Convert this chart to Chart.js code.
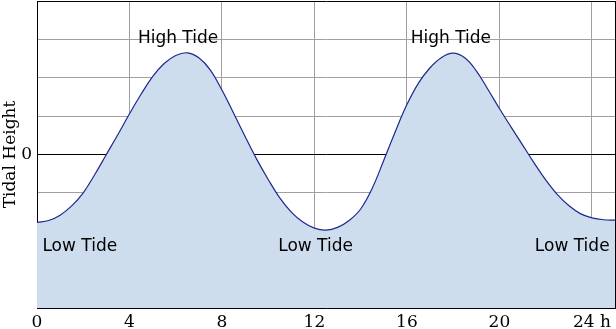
<!DOCTYPE html>
<html>
<head>
<meta charset="utf-8">
<script src="https://cdn.jsdelivr.net/npm/chart.js@4/dist/chart.umd.min.js"></script>
<style>
html,body{margin:0;padding:0;background:#fff;}
canvas{display:block;}
</style>
</head>
<body>
<canvas id="c" width="616" height="329"></canvas>
<script>
// Data (every half hour)
const hours   = [0, 0.5, 1, 1.5, 2, 2.5, 3, 3.5, 4, 4.5, 5, 5.5, 6, 6.5, 7, 7.5, 8, 8.5, 9, 9.5, 10, 10.5, 11, 11.5, 12, 12.5,
                 13, 13.5, 14, 14.5, 15, 15.5, 16, 16.5, 17, 17.5, 18, 18.5, 19, 19.5, 20, 20.5, 21, 21.5, 22, 22.5, 23, 23.5, 24, 24.5, 25];
const heights = [-1.77, -1.72, -1.58, -1.34, -1.0, -0.52, 0.0, 0.52, 1.06, 1.57, 2.03, 2.37, 2.58, 2.65, 2.52, 2.2, 1.68, 1.08, 0.47, -0.12, -0.65, -1.13, -1.5, -1.76, -1.92, -1.97,
                 -1.9, -1.72, -1.42, -0.88, -0.15, 0.6, 1.3, 1.86, 2.26, 2.53, 2.64, 2.52, 2.18, 1.7, 1.2, 0.72, 0.25, -0.22, -0.66, -1.04, -1.33, -1.54, -1.65, -1.7, -1.71];
const xTicks = [0, 4, 8, 12, 16, 20, 24, 25];
const xTickLabels = ['0', '4', '8', '12', '16', '20', '24 h', ''];
const yTicks = [-4, -3, -2, -1, 0, 1, 2, 3, 4];
const noteTexts = ['High Tide', 'High Tide', 'Low Tide', 'Low Tide', 'Low Tide'];
const noteX = [6.1, 17.9, 1.85, 12.05, 23.15];
const noteY = [3.02, 3.02, -2.4, -2.4, -2.4];

const points = hours.map((h, i) => ({x: h, y: heights[i]}));

const notesPlugin = {
  id: 'notes',
  afterDraw(chart) {
    const {ctx, scales: {x, y}} = chart;
    ctx.save();
    ctx.font = '17px "DejaVu Sans"';
    ctx.fillStyle = '#000';
    ctx.textAlign = 'center';
    ctx.textBaseline = 'middle';
    noteTexts.forEach((t, i) => {
      ctx.fillText(t, x.getPixelForValue(noteX[i]), y.getPixelForValue(noteY[i]));
    });
    ctx.restore();
  }
};

new Chart(document.getElementById('c'), {
  type: 'line',
  data: {
    datasets: [{
      data: points,
      borderColor: 'rgb(30,40,140)',
      borderWidth: 1.2,
      backgroundColor: 'rgb(205,221,238)',
      fill: 'start',
      pointRadius: 0,
      tension: 0.4
    }]
  },
  options: {
    responsive: false,
    animation: false,
    layout: {padding: {top: 1, right: 1, left: 0, bottom: 0}},
    plugins: {legend: {display: false}, tooltip: {enabled: false}},
    scales: {
      x: {
        type: 'linear',
        min: 0, max: 25,
        z: 1,
        afterBuildTicks(s) { s.ticks = xTicks.map(v => ({value: v})); },
        afterFit(s) { s.height = 21; s.paddingLeft = 0; s.paddingRight = 0; },
        ticks: {
          autoSkip: false, maxRotation: 0, padding: 4,
          color: '#000',
          font: {family: '"DejaVu Serif"', size: 17},
          callback: (v) => xTickLabels[xTicks.indexOf(v)]
        },
        grid: {
          drawTicks: false,
          color: (c) => (c.tick && c.tick.value === 25) ? '#000' : '#a0a0a0',
          lineWidth: 1
        },
        border: {color: '#000', width: 1}
      },
      y: {
        type: 'linear',
        min: -4, max: 4,
        z: 1,
        afterBuildTicks(s) { s.ticks = yTicks.map(v => ({value: v})); },
        afterFit(s) { s.width = 37; s.paddingTop = 0; s.paddingBottom = 0; },
        ticks: {
          padding: 5,
          color: '#000',
          font: {family: '"DejaVu Serif"', size: 17},
          callback: (v) => v === 0 ? '0' : ''
        },
        grid: {
          drawTicks: false,
          color: (c) => (c.tick && (c.tick.value === 0 || c.tick.value === 4)) ? '#000' : '#a0a0a0',
          lineWidth: 1
        },
        border: {color: '#000', width: 1},
        title: {
          display: true,
          text: 'Tidal Height',
          color: '#000',
          font: {family: '"DejaVu Serif"', size: 17},
          padding: {top: 0, bottom: 0}
        }
      }
    }
  },
  plugins: [notesPlugin]
});
</script>
</body>
</html>
